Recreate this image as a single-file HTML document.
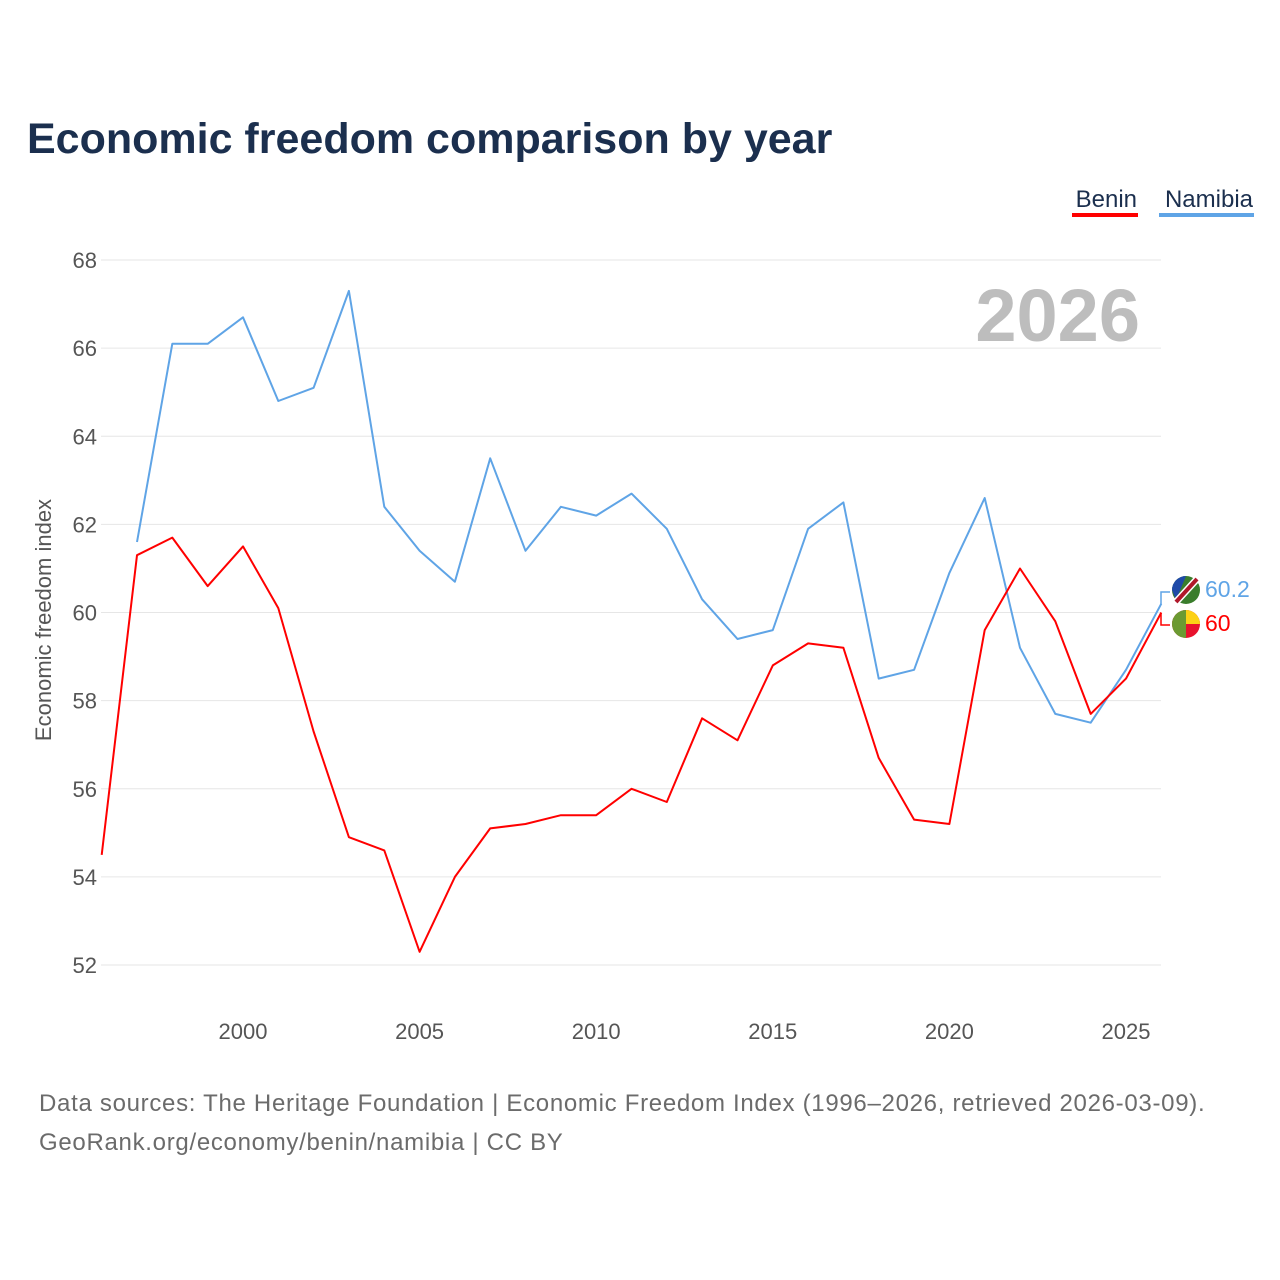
<!DOCTYPE html>
<html><head><meta charset="utf-8"><style>
body{margin:0;background:#fff;font-family:"Liberation Sans",sans-serif}
svg{display:block}
</style></head><body>
<svg width="1280" height="1280" id="chart">
<text x="27" y="153" font-size="43" font-weight="bold" fill="#1b2f4e">Economic freedom comparison by year</text>
<g>
<text x="1137" y="207" font-size="24" fill="#1b2f4e" text-anchor="end">Benin</text>
<rect x="1072" y="213" width="66" height="4" fill="#ff0000"/>
<text x="1253" y="207" font-size="24" fill="#1b2f4e" text-anchor="end">Namibia</text>
<rect x="1159" y="213" width="95" height="4" fill="#5fa4e6"/>
</g>
<text x="1140" y="341" font-size="74" font-weight="bold" fill="#bdbdbd" text-anchor="end">2026</text>
<g id="grid"></g><g id="xt"></g>
<text transform="translate(51,620) rotate(-90)" font-size="22" fill="#555" text-anchor="middle">Economic freedom index</text>
<g id="lines"></g>
<g>
<circle cx="1186" cy="590" r="14" fill="#3a7d2c"/>
<path d="M1172,590 A14,14 0 0 1 1186,576 L1176,600 Z" fill="#1f4aa8"/>
<line x1="1176" y1="602" x2="1197" y2="579" stroke="#fff" stroke-width="7"/>
<line x1="1176" y1="602" x2="1197" y2="579" stroke="#b0182a" stroke-width="4"/>
<circle cx="1186" cy="624" r="14" fill="#e8112d"/>
<path d="M1186,610 A14,14 0 0 1 1200,624 L1186,624 Z" fill="#fcd116"/>
<path d="M1186,610 A14,14 0 0 0 1186,638 Z" fill="#6b9a32"/>
<text x="1205" y="597" font-size="23" fill="#5fa4e6">60.2</text>
<text x="1205" y="631" font-size="23" fill="#ff0000">60</text>
<path d="M1161,604 V592 H1170" fill="none" stroke="#5fa4e6" stroke-width="1.5"/>
<path d="M1161,613 V625 H1170" fill="none" stroke="#ff0000" stroke-width="1.5"/>
</g>
<text x="39" y="1111" font-size="24" fill="#6b6b6b" letter-spacing="0.7">Data sources: The Heritage Foundation | Economic Freedom Index (1996–2026, retrieved 2026-03-09).</text>
<text x="39" y="1150" font-size="24" fill="#6b6b6b" letter-spacing="0.7">GeoRank.org/economy/benin/namibia | CC BY</text>
</svg>
<script>
const years=[1996,1997,1998,1999,2000,2001,2002,2003,2004,2005,2006,2007,2008,2009,2010,2011,2012,2013,2014,2015,2016,2017,2018,2019,2020,2021,2022,2023,2024,2025,2026];
const benin=[54.5,61.3,61.7,60.6,61.5,60.1,57.3,54.9,54.6,52.3,54.0,55.1,55.2,55.4,55.4,56.0,55.7,57.6,57.1,58.8,59.3,59.2,56.7,55.3,55.2,59.6,61.0,59.8,57.7,58.5,60.0];
const namibia=[null,61.6,66.1,66.1,66.7,64.8,65.1,67.3,62.4,61.4,60.7,63.5,61.4,62.4,62.2,62.7,61.9,60.3,59.4,59.6,61.9,62.5,58.5,58.7,60.9,62.6,59.2,57.7,57.5,58.7,60.2];
const yTicks=[52,54,56,58,60,62,64,66,68];
const xTicks=[2000,2005,2010,2015,2020,2025];
const NS="http://www.w3.org/2000/svg";
const X=v=>101.7+(v-1996)*35.32;
const Y=v=>965-(v-52)*44.06;
function mk(t,a,p){const e=document.createElementNS(NS,t);for(const k in a)e.setAttribute(k,a[k]);p.appendChild(e);return e;}
const g=document.getElementById('grid');
yTicks.forEach(v=>{
 const l=mk('line',{x1:101,x2:1161,y1:Y(v),y2:Y(v),stroke:'#e6e6e6','stroke-width':1},g);
 
 
 const t=mk('text',{x:97,y:Y(v)+8,'font-size':22,fill:'#555','text-anchor':'end'},g);
 t.textContent=v;
 
 
});
const xt=document.getElementById('xt');
xTicks.forEach(v=>{
 const t=mk('text',{x:X(v),y:1039,'font-size':22,fill:'#555','text-anchor':'middle'},xt);
 t.textContent=v;
 
 
});
const lg=document.getElementById('lines');
function path(arr,col,name){
 let d='';let pen=false;
 arr.forEach((v,i)=>{if(v==null){pen=false;return;}d+=(pen?'L':'M')+X(years[i]).toFixed(1)+','+Y(v).toFixed(1);pen=true;});
 const p=mk('path',{d:d,fill:'none',stroke:col,'stroke-width':2,'stroke-linejoin':'round'},lg);
 
 
}
path(namibia,'#5fa4e6','namibia-line');
path(benin,'#ff0000','benin-line');
</script>
</body></html>
